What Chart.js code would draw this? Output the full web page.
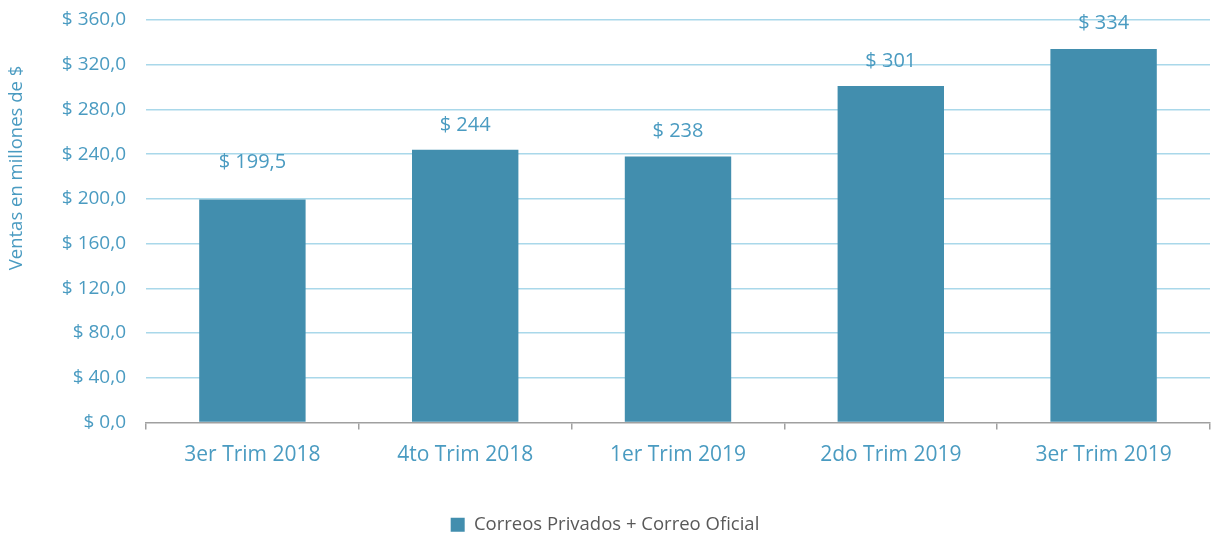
<!DOCTYPE html>
<html>
<head>
<meta charset="utf-8">
<script src="https://cdn.jsdelivr.net/npm/chart.js@4.4.0/dist/chart.umd.min.js"></script>
<style>
	html, body { margin: 0; padding: 0; background: #ffffff; }
	#wrap { width: 1212px; height: 533px; }
</style>
</head>
<body>
<div id="wrap"><canvas id="ventasChart" width="1212" height="533"></canvas></div>
<script>
// Data
const categories = ["3er Trim 2018", "4to Trim 2018", "1er Trim 2019", "2do Trim 2019", "3er Trim 2019"];
const ventas = [199.5, 244, 238, 301, 334];
const valueLabels = ["$ 199,5", "$ 244", "$ 238", "$ 301", "$ 334"];
const seriesName = "Correos Privados + Correo Oficial";
const yTitle = "Ventas en millones de $";

const barColor = "#428EAE";
const textColor = "#4A9BC1";
const gridColor = "#A9D8EA";
const axisColor = "#A0A0A0";
const labelLift = [37, 24, 25, 25, 26]; // px above bar top (as placed in the original)

// Draw value labels above bars and the rotated y title
const extrasPlugin = {
	id: "extras",
	afterDatasetsDraw(chart) {
		const ctx = chart.ctx;
		const meta = chart.getDatasetMeta(0);
		ctx.save();
		ctx.font = "20px 'Open Sans'";
		ctx.fillStyle = textColor;
		ctx.textAlign = "center";
		ctx.textBaseline = "middle";
		meta.data.forEach((bar, i) => {
			ctx.fillText(valueLabels[i], bar.x, bar.y - labelLift[i]);
		});
		// y axis title
		ctx.translate(17, 168);
		ctx.rotate(-Math.PI / 2);
		ctx.font = "18.5px 'Open Sans'";
		ctx.fillText(yTitle, 0, 0);
		ctx.restore();
	},
};

const chartConfig = {
	type: "bar",
	data: {
		labels: categories,
		datasets: [
			{
				label: seriesName,
				data: ventas,
				backgroundColor: barColor,
				borderWidth: 0,
				barPercentage: 0.5,
				categoryPercentage: 1.0,
			},
		],
	},
	options: {
		responsive: false,
		animation: false,
		layout: {
			padding: { top: 20, right: 2, left: 0, bottom: -11 },
		},
		plugins: {
			legend: {
				display: true,
				position: "bottom",
				labels: {
					boxWidth: 14,
					boxHeight: 14,
					padding: 2,
					color: "#595959",
					font: { family: "'Open Sans'", size: 18.5 },
				},
			},
			tooltip: { enabled: false },
		},
		scales: {
			x: {
				offset: true,
				grid: {
					display: true,
					offset: true,
					drawOnChartArea: false,
					drawTicks: true,
					tickLength: 7,
					color: axisColor,
					lineWidth: 1.5,
				},
				border: { display: true, color: axisColor, width: 1.5 },
				ticks: {
					color: textColor,
					padding: 13,
					font: { family: "'Open Sans'", size: 21 },
				},
				afterFit: function (scale) {
					scale.height = 91;
				},
			},
			y: {
				min: 0,
				max: 360,
				grid: {
					drawTicks: true,
					tickLength: 20,
					tickColor: "rgba(0,0,0,0)",
					lineWidth: 1.5,
					color: function (context) {
						return context.tick && context.tick.value === 0 ? "rgba(0,0,0,0)" : gridColor;
					},
				},
				border: { display: false },
				ticks: {
					stepSize: 40,
					color: textColor,
					padding: 0,
					font: { family: "'Open Sans'", size: 19 },
					callback: function (value) {
						return "$ " + value.toFixed(1).replace(".", ",");
					},
				},
				afterFit: function (scale) {
					scale.width = 146;
				},
			},
		},
	},
	plugins: [extrasPlugin],
};

let ventasChart;

document.addEventListener("DOMContentLoaded", () => {
	const ctx = document.getElementById("ventasChart");
	if (ctx) {
		ventasChart = new Chart(ctx, chartConfig);
	}
});
</script>
</body>
</html>
